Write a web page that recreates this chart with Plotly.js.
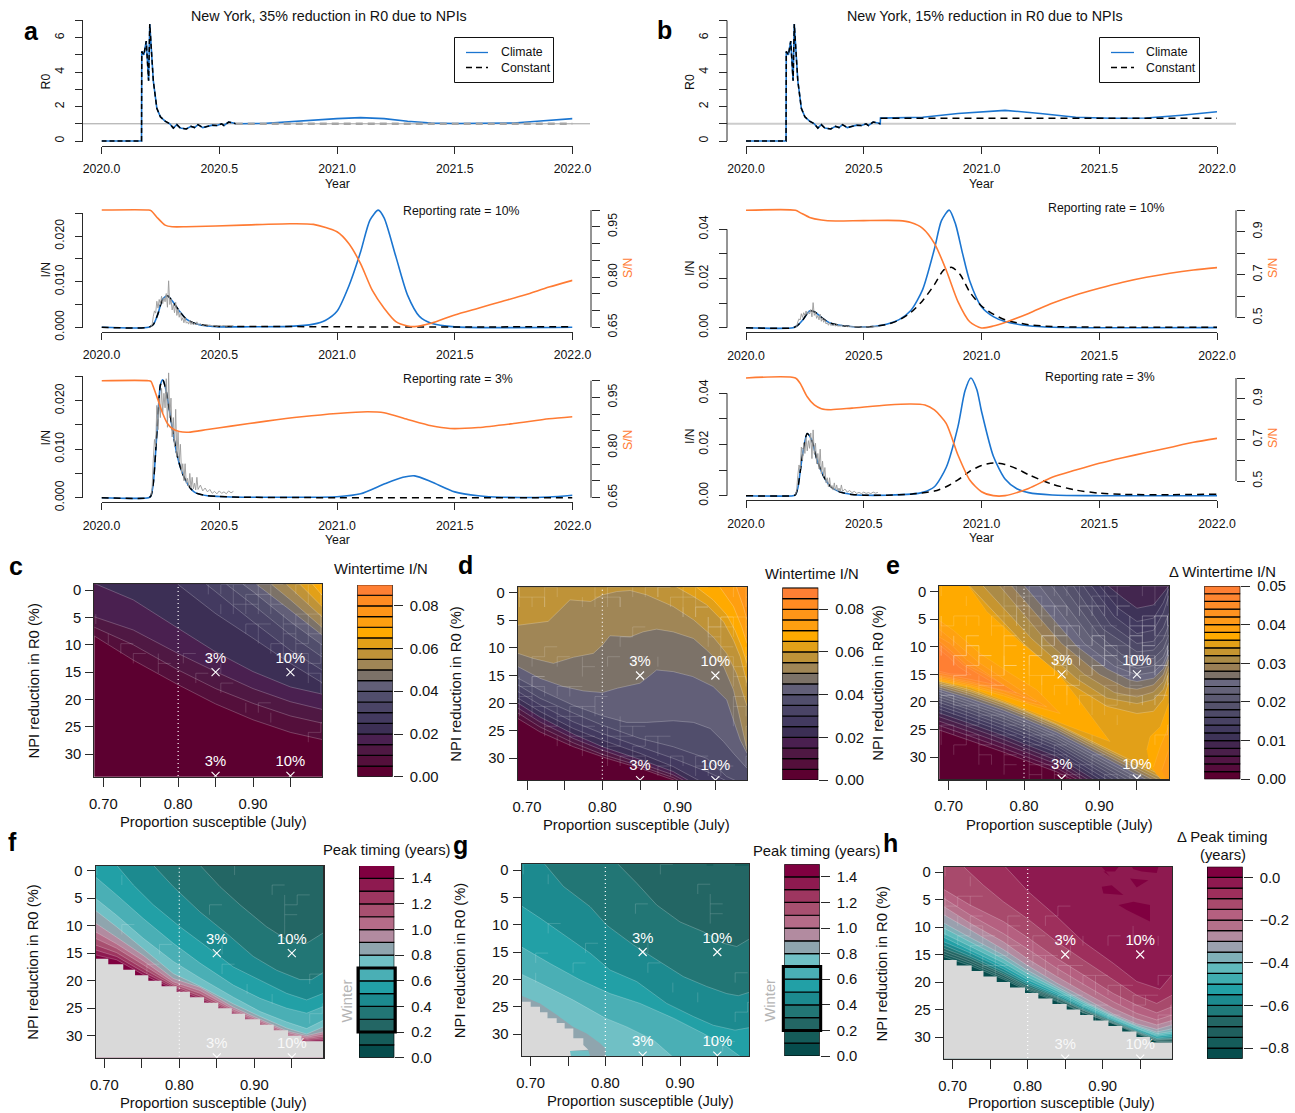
<!DOCTYPE html>
<html><head><meta charset="utf-8">
<script src="https://cdn.plot.ly/plotly-3.0.1.min.js"></script>
<style>html,body{margin:0;padding:0;background:#fff}#g{width:1295px;height:1113px}</style></head>
<body><div id="g"></div>
<script>
// ---------- time-series data (years since 2020 are added when drawn) ----------
const r0EarlyT=[0,.17,.171,.18,.19,.195,.2,.205,.21,.22,.235,.25,.27,.29,.305,.32,.335,.36,.38,.395,.41,.43,.45,.47,.49,.51,.52,.54,.56,.57];
const r0EarlyV=[0,0,5.2,5.0,5.8,4.2,3.5,6.8,5.5,3.5,1.9,1.4,1.15,1.0,.75,.95,.75,.7,.85,.78,.95,.78,.85,.92,.9,1.0,.9,1.1,1.05,1.0];
const r0LateTA=[.7,.85,1.0,1.1,1.2,1.3,1.4,1.5,1.6,1.75,1.85,2.0];
const r0LateVA=[1.03,1.18,1.3,1.36,1.3,1.15,1.05,1.02,1.02,1.05,1.15,1.3];
const r0LateTB=[.571,.75,.9,1.1,1.25,1.4,1.55,1.7,1.85,2.0];
const r0LateVB=[1.33,1.38,1.6,1.78,1.6,1.38,1.32,1.34,1.5,1.7];
const r0ConstTA=[.57,2.0]; const r0ConstVA=[1.0,1.0];
const r0ConstTB=[.571,2.0]; const r0ConstVB=[1.32,1.32];

const obsT=[.21,.215,.22,.225,.23,.235,.24,.245,.25,.255,.26,.265,.27,.275,.28,.285,.29,.295,.30,.305,.31,.315,.32,.325,.33,.335,.34,.345,.35,.355,.36,.365,.37,.375,.38,.385,.39,.395,.40,.405,.41,.42,.43,.44,.45,.46,.47,.48,.49,.50,.51,.52,.53,.54,.55,.56];
const obs3=[.0005,.002,.008,.012,.0105,.019,.014,.0205,.0165,.0225,.0175,.0215,.0185,.0245,.0145,.0257,.0165,.0205,.0125,.0165,.0105,.0182,.0085,.0135,.0075,.011,.005,.007,.0035,.007,.003,.004,.0022,.005,.002,.0042,.0018,.003,.0016,.0042,.0017,.0026,.0014,.002,.0012,.0017,.0009,.0013,.0008,.0014,.0009,.0012,.0008,.0014,.001,.0013];
const obs10=[.0001,.0006,.0024,.0036,.0031,.0057,.0042,.0061,.005,.0068,.0052,.0065,.0056,.0074,.0044,.0102,.005,.0062,.0038,.005,.0032,.0055,.0026,.004,.0022,.0033,.0015,.0021,.001,.0021,.0009,.0012,.0007,.0015,.0006,.0013,.0005,.0009,.0005,.0012,.0005,.0008,.0004,.0006,.0004,.0005,.0003,.0004,.0002,.0004,.0003,.0004,.0002,.0004,.0003,.0004];

const t2aClim=[0,.2,.22,.24,.26,.28,.30,.33,.36,.4,.45,.5,.6,.8,.9,.95,1.0,1.05,1.1,1.14,1.175,1.2,1.25,1.3,1.35,1.4,1.5,2.0];
const v2aClim=[0,0,.0006,.003,.0062,.0069,.0058,.0036,.0018,.0008,.0003,.0001,.0001,.0002,.0007,.0015,.0035,.009,.0165,.0235,.0257,.024,.0155,.007,.0024,.0009,.0001,0];
const t2aConst=[0,.2,.22,.24,.26,.28,.30,.33,.36,.4,.45,.5,.7,1.0,2.0];
const v2aConst=[0,0,.0006,.003,.0062,.0069,.0058,.0036,.0018,.0008,.0004,.0002,.0002,.0001,.0001];
const t2aS=[0,.2,.21,.24,.27,.3,.36,.6,.8,.9,1.0,1.05,1.1,1.15,1.2,1.25,1.3,1.33,1.4,1.5,1.6,1.7,1.8,1.9,2.0];
const v2aS=[1,1,.998,.975,.955,.95,.95,.955,.959,.957,.935,.90,.84,.76,.707,.667,.654,.652,.662,.687,.707,.727,.747,.77,.79];

const t3aClim=[0,.2,.21,.22,.23,.24,.25,.26,.27,.28,.30,.32,.34,.36,.38,.40,.45,.5,.6,.8,1.0,1.1,1.2,1.28,1.33,1.4,1.5,1.6,1.7,1.9,2.0];
const v3aClim=[0,0,.0004,.003,.0095,.017,.0232,.0243,.023,.0205,.0145,.009,.0055,.0033,.0018,.001,.0004,.00025,.0001,.0001,.0002,.0008,.0028,.0042,.0045,.0033,.0012,.0004,.0001,.00015,.0005];
const t3aConst=[0,.2,.21,.22,.23,.24,.25,.26,.27,.28,.30,.32,.34,.36,.38,.40,.45,.5,.6,1.0,2.0];
const v3aConst=[0,0,.0004,.003,.0095,.017,.0232,.0243,.023,.0205,.0145,.009,.0055,.0033,.0018,.001,.0004,.00025,.0001,0,0];
const t3aS=[0,.2,.21,.22,.24,.26,.28,.3,.33,.37,.45,.55,.7,.85,1.0,1.13,1.2,1.3,1.4,1.48,1.6,1.75,1.9,2.0];
const v3aS=[1,1,.998,.982,.942,.902,.872,.857,.848,.846,.854,.864,.879,.892,.902,.907,.904,.884,.865,.857,.86,.872,.886,.892];

const t2bClim=[0,.2,.22,.24,.27,.29,.33,.36,.42,.5,.55,.6,.65,.7,.75,.8,.83,.863,.89,.92,.95,1.0,1.05,1.1,1.2,1.3,2.0];
const v2bClim=[0,0,.001,.003,.0068,.0065,.0035,.0018,.0007,.0003,.0006,.0015,.0033,.007,.0155,.032,.0435,.0478,.042,.03,.019,.0085,.0045,.0025,.0008,.0002,.00005];
const t2bConst=[0,.2,.22,.24,.27,.29,.33,.36,.42,.5,.55,.6,.65,.7,.75,.8,.84,.875,.91,.95,1.0,1.05,1.1,1.2,1.3,1.5,2.0];
const v2bConst=[0,0,.001,.003,.0068,.0065,.0035,.0018,.0007,.0003,.0006,.0014,.0031,.0062,.011,.0175,.0235,.0245,.0215,.0145,.0088,.0055,.0032,.0012,.0005,.0002,.0002];
const t2bS=[0,.21,.23,.27,.32,.38,.5,.65,.7,.75,.8,.85,.9,.95,1.0,1.05,1.1,1.2,1.3,1.4,1.5,1.6,1.7,1.8,1.9,2.0];
const v2bS=[1,1,.989,.967,.955,.95,.952,.952,.943,.916,.846,.722,.575,.481,.452,.461,.478,.52,.567,.606,.637,.665,.688,.707,.722,.733];

const t3bClim=[0,.2,.21,.22,.24,.26,.28,.3,.33,.36,.4,.45,.5,.6,.7,.75,.8,.85,.9,.93,.955,.98,1.0,1.05,1.1,1.15,1.2,1.3,1.5,2.0];
const v3bClim=[0,0,.0004,.003,.016,.0243,.0215,.0145,.0075,.0035,.0014,.0005,.0002,.0002,.0006,.0013,.0035,.011,.027,.041,.046,.0415,.033,.0155,.0065,.0027,.0012,.0003,0,0];
const t3bConst=[0,.2,.21,.22,.24,.26,.28,.3,.33,.36,.4,.45,.5,.6,.7,.8,.85,.9,.95,1.0,1.05,1.1,1.15,1.2,1.3,1.4,1.5,1.6,1.8,2.0];
const v3bConst=[0,0,.0004,.003,.016,.0243,.0215,.0145,.0075,.0035,.0014,.0005,.0002,.0002,.0006,.0018,.0035,.0062,.0095,.0118,.0128,.0122,.0105,.0082,.0045,.0022,.001,.0005,.0004,.0006];
const t3bS=[0,.21,.23,.26,.29,.32,.36,.45,.6,.7,.76,.8,.85,.9,.95,1.0,1.05,1.1,1.2,1.3,1.4,1.5,1.6,1.7,1.8,1.9,2.0];
const v3bS=[1,1,.974,.909,.869,.851,.846,.854,.869,.874,.869,.845,.78,.626,.505,.448,.429,.429,.464,.518,.553,.586,.613,.638,.663,.688,.707];

// ---------- colour levels ----------
const winterColors=['#5c0030','#540f3b','#4f1843','#4a2050','#3c2f55','#433a60','#4a4466','#514e6c','#625f78','#7c7268','#a08656','#bf9338','#e2a018','#ffaa00','#ff9f10','#ff9518','#ff8b22','#ff7f33'];
const winterBins=[0,.005,.01,.015,.02,.025,.03,.035,.04,.045,.05,.055,.06,.065,.07,.075,.08,.085];
const deltaWinterColors=['#5b0030','#560c3c','#521544','#4a1f4a','#43264f','#3e3358','#423a5f','#484263','#4e4a68','#55526c','#5c5a72','#646278','#6a6880','#7d7268','#9a7f55','#ab8b47','#c69530','#e2a018','#ffaa00','#ffa210','#ff9a18','#ff9320','#ff8c28','#ff8530','#ff7f33'];
const deltaWinterBins=[0,.002,.004,.006,.008,.01,.012,.014,.016,.018,.02,.022,.024,.026,.028,.03,.032,.034,.036,.038,.04,.042,.044,.046,.048];
const peakColors=['#064d4d','#155c5a','#236664','#227675','#1c8a8f','#22a0a6','#4aafb5','#70c0c5','#8fa5ae','#b28ba0','#b56c88','#a85070','#9e3660','#8e1a50','#800040'];
const peakBins=[0,.1,.2,.3,.4,.5,.6,.7,.8,.9,1.0,1.1,1.2,1.3,1.4];
const deltaPeakColors=['#064d4d','#155c5a','#1f5f5e','#236664','#1f7a7a','#1c8a8f','#22a0a6','#3fadb0','#60babc','#80b0b8','#9aa0ae','#b28ba0','#b5708a','#b56080','#a84a6c','#9e2f5c','#8e1a50','#800040'];
const deltaPeakBins=[-.85,-.8,-.75,-.7,-.65,-.6,-.55,-.5,-.45,-.4,-.35,-.3,-.25,-.2,-.15,-.1,-.05,0];

// ---------- panel c: contour curves, lowest level first ----------
const cX=[
[.688,.74,.80,.85,.90,.95,.992],[.688,.74,.80,.85,.90,.95,.992],[.688,.74,.80,.85,.90,.95,.992],[.688,.74,.80,.85,.90,.95,.992],
[.80,.85,.90,.95,.992],[.838,.85,.90,.95,.992],[.865,.90,.95,.992],[.887,.90,.95,.992],[.905,.95,.992],[.925,.95,.992],[.945,.992],[.963,.992],[.98,.992]];
const cY=[
[8.4,12.8,17.3,20.8,23.7,26,27.3],[6.8,10,14.6,18,20.7,23,24.3],[4.9,7.3,11.6,14.9,18,20.4,21.8],[-1.2,1.8,7,11.3,14.9,17.7,19],
[-1,4.3,8.8,13.4,16.9],[-1,.3,5.8,11,14.6],[-1,2.7,8.2,12.2],[-1,.3,5.8,10],[-1,3.7,8.2],[-1,1.8,6.8],[-1,4.9],[-1,3],[-1,.9]];

// ---------- panel d ----------
const dX=[
[.688,.717,.7615,.806,.85,.894,.90],
[.688,.717,.7615,.80,.85,.894,.905],
[.688,.717,.7615,.80,.85,.894,.912],
[.688,.717,.7615,.80,.85,.894,.918],
[.688,.717,.7615,.80,.85,.894,.932],
[.688,.717,.7615,.80,.85,.894,.9385,.968],
[.688,.717,.7615,.80,.85,.894,.9385,.965,.992],
[.688,.717,.7615,.80,.832,.859,.894,.921,.943,.961,.974,.992],
[.688,.717,.748,.775,.80,.82,.85,.864,.872,.894,.92,.947,.965,.974,.983,.992],
[.688,.708,.735,.7615,.788,.80,.81,.837,.854,.872,.894,.921,.9385,.961,.974,.983,.992],
[.688,.728,.7415,.757,.7845,.80,.819,.837,.859,.894,.921,.947,.965,.978,.992],
[.872,.899,.921,.9385,.961,.974,.983,.992],
[.925,.947,.965,.976,.985,.992],
[.956,.974,.985,.992],
[.978,.987,.992]];
const dY=[
[22.8,25.2,27.9,30,31.8,33.9,34.3],
[21.8,24.3,27.2,29.3,31.4,33.5,34.3],
[20.9,23.4,26.4,28.5,30.9,33,34.3],
[20,22.5,25.6,27.9,30.2,32.4,34.3],
[19.1,21.5,24.6,26.7,29.1,31.5,34.3],
[17.9,20.3,23.4,25.5,27.9,30,32.4,34.3],
[16.7,19.1,21.8,24,26.4,27.9,30,33.3,35],
[15.5,17.6,20.4,22.3,23.5,23.5,23.2,23.5,24.6,27,29.1,31.8],
[13.4,15.5,17,17.8,18.1,17.3,16.4,14.9,14,14.3,15.2,17,19.4,23.1,26.7,29.1],
[11,11.9,12.8,11.7,11,9.5,7.8,8,7.1,6.6,7.1,8.3,10.4,13.4,17.6,23,28.5],
[5.9,5.2,3.4,1.3,1.6,.4,-.2,-.4,.4,2.5,4.9,8,11,14.6,20.6],
[-2.3,-1,.7,2.2,5.3,8.6,11.6,16.4],
[-1,1.3,4,6.8,9.8,12.8],
[-1,2.5,6.2,9.2],
[-1,2.5,4.9]];
const dBinIndex=[1,2,3,4,5,6,7,8,9,10,11,12,13,14,15];

// ---------- panel e: lower strip and upper diagonal of each level ----------
const eStripX=[.6876,.728,.7726,.80,.8434];
const eStripY=[
[25.1,27,29.1,30.5,32.7],[24.3,26.2,28.4,29.8,32],[23.5,25.4,27.6,29,31.3],[22.7,24.6,26.8,28.3,30.6],
[22,23.9,26.1,27.6,29.9],[21.3,23.2,25.4,26.9,29.2],[20.7,22.6,24.8,26.2,28.6],[20.1,22,24.2,25.6,28],
[19.6,21.4,23.6,25,27.5],[19.1,20.9,23,24.5,27],[18.6,20.4,22.5,24,26.5],[18.1,19.9,22,23.5,26],
[17.7,19.4,21.5,23,25.5],[17.3,18.9,21,22.5,25],[16.9,18.5,20.6,22.1,24.6],[16.6,18.1,20.2,21.7,24.2],[16.3,17.8,20,21.5,24]];
const eStripEndX=[.87,.876,.883,.89,.898,.906,.915,.924,.933,.942,.951,.96,.968,.976,.984,.992,1.0];
const eUpperX=[null,null,null,null,
[.912,.932,.95,.972,.985,.992],[.901,.925,.95,.972,.985,.992],[.89,.92,.95,.972,.985,.992],[.879,.915,.95,.972,.985,.992],
[.866,.905,.95,.972,.985,.992],[.852,.90,.93,.95,.972,.985,.992],[.837,.89,.93,.95,.972,.985,.992],[.821,.88,.92,.95,.972,.985,.992],
[.801,.87,.91,.94,.95,.972,.985,.992],[.784,.85,.90,.935,.95,.972,.985,.992],[.768,.83,.88,.92,.95,.972,.985,.992],
[.746,.81,.87,.91,.95,.972,.985,.992],[.728,.80,.86,.91,.95,.972,.985,.992]];
const eUpperY=[null,null,null,null,
[-1,1.2,3,2.4,.2,-1],[-1,3,5.4,4.8,2,-.5],[-1,4.5,7.6,7,3.8,.9],[-1,6,9.4,9,6.5,4],
[-1,6.8,10.9,10.6,8.6,6.1],[-1,8,11.4,12.4,12.1,10.4,7.9],[-1,8.6,12.9,13.9,13.4,11.8,9.4],[-1,9.4,13.5,15.1,14.6,13,10.6],
[-1,9.9,14,16,16.3,15.7,14,11.5],[-1,9.4,15,17.4,17.7,16.9,15,12.4],[-1,9,15,18.3,19.1,18.2,16.3,13.6],
[-1,8.5,15.8,19.3,20.3,19.6,17.7,14.8],[-1,9.5,16.6,20.8,22.1,21.7,19.5,16.6]];
// closed islands: colour bin index, then outline
const eBlobBin=[18,18,19,19,20,20,21,22,23,24];
const eBlobX=[
[.68,.706,.7505,.7947,.8434,.87,.9143,.8611,.8169,.7726,.7283,.68],
[.963,.9674,.981,.992,1.05,1.05,.981,.9674],
[.68,.7062,.7416,.7815,.8169,.8479,.8169,.7726,.7283,.68],
[.972,.981,.992,1.05,1.05,.985,.975],
[.68,.7106,.7416,.7815,.8124,.8301,.8036,.7726,.7283,.68],
[.983,.992,1.05,1.05,.99],
[.68,.7018,.7239,.7505,.7815,.8169,.7726,.7283,.68],
[.68,.7018,.7239,.746,.7726,.79,.7637,.7283,.68],
[.68,.7018,.7195,.7416,.7638,.7283,.68],
[.68,.6996,.7128,.73,.7018,.68]];
const eBlobY=[
[-5,-5,3.6,9.1,14.5,19.1,27.2,24.5,22.1,19.7,17.4,16],
[28.7,26.3,24.5,20.3,20.3,34.5,33.6,31.8],
[4.5,7,11.2,14.8,17.8,22.1,20.9,18.9,17.2,15.8],
[31.8,28.1,24.5,24.5,34.5,34.5,33],
[6,9.4,13,16.6,19.4,20.9,20,18.5,16.9,15.5],
[32.4,28.7,28.7,34.5,34.5],
[7.6,9.4,12.4,14.8,17.8,20,18,16.6,15.2],
[8.2,10.6,13.3,14.8,16.9,18.4,17.6,16.3,15],
[8.8,11.2,13.3,15.1,16.9,15.9,14.6],
[9.7,11.8,13.6,15.1,14.9,14.2]];

// ---------- panel f: curves ordered from high to low value ----------
const fGridX=[.688,.7164,.752,.792,.8276,.872,.9076,.9431,.9698,.992];
const fCurveY=[
[15.3,16.2,18.9,21.5,23.6,26,28.2,30.3,31.1,31],
[14.4,15.6,18.4,21.2,23.2,25.9,28,30.1,30.9,30.7],
[13.5,14.9,17.8,20.9,22.8,25.7,27.8,29.9,30.7,30.4],
[12.3,14.1,17.1,20.6,22.3,25.5,27.6,29.7,30.5,30.1],
[11.1,13.3,16.4,20.2,21.8,25.2,27.3,29.4,30.3,29.7],
[9.5,12.1,15.4,19.6,21.2,24.8,27,29.1,30,29.3],
[7.2,10.2,14.2,18.7,21,24.2,26.5,28.6,29.7,28.4],
[5,8.1,12.3,16.5,19.5,23,25.6,27.5,28.7,27.2],
[1.1,4.4,8.7,13.2,16.8,20.8,23.2,25,25.9,24.7]];
const fCurve5X=[.7164,.7387,.7653,.8009,.8364,.872,.9076,.9431,.9698,.992];
const fCurve5Y=[-1,2.6,6.2,10.2,13.8,17.5,19.9,22.3,23.5,22.3];
const fCurve4X=[.7653,.792,.8276,.8631,.8987,.9298,.9609,.9764,.992];
const fCurve4Y=[-1,2.9,7.5,11.4,15.6,18.1,19.8,19.8,18.5];
const fCurve3X=[.8276,.8542,.8809,.9164,.9476,.9698,.992];
const fCurve3Y=[-1,2.9,6.2,10.2,12.9,13.2,11.3];
// missing-data staircase shared by f and h
const stairX=[.688,.7053,.7053,.7253,.7253,.741,.741,.7587,.7587,.7764,.7764,.7964,.7964,.8142,.8142,.833,.833,.852,.852,.87,.87,.8876,.8876,.9076,.9076,.926,.926,.945,.945,.963,.963,.992];
const stairY=[16,16,17,17,18,18,19,19,20,20,21,21,22,22,23,23,24,24,25,25,26,26,27,27,28,28,29,29,30,30,31,31];

// ---------- panel g ----------
const gX=[
[.688,.7125,.7571,.80,.8286,.8643,.8911],
[.688,.7259,.7661,.8063,.8464,.8911,.9313,.9625,.9826],
[.688,.7125,.7482,.7795,.8063,.842,.8821,.9179,.9446,.9737,.992],
[.7192,.7438,.7795,.8018,.8375,.8732,.9045,.9357,.9625,.9781,.992],
[.8174,.842,.8688,.90,.9313,.958,.9759,.992]];
const gY=[
[19.1,20.7,23.8,27.1,28.7,31.1,34.3],
[14.1,17.1,20.1,22.6,24.4,27.1,29.9,32.3,34.3],
[6.6,8.8,12.2,15.2,18.3,20.4,24.4,26.8,28.4,29.3,28.85],
[-1,3,6.7,10.1,13.7,16.8,19.5,21.3,22.6,23,22.4],
[-1,2.4,6.4,9.5,11.3,13.4,14,12.7]];
const gBlueGreyX=[.68,.688,.7125,.7348,.7571,.775,.7929,.80,.80,.68];
const gBlueGreyY=[23,23,24.4,26.5,28.7,29.9,31.7,32.6,35,35];
const gGreyX=[.68,.688,.7,.7,.7125,.7125,.7225,.7225,.7348,.7348,.7455,.7455,.7571,.7571,.7705,.7705,.7772,.7527,.755,.755,.68];
const gGreyY=[24.1,24.1,24.1,25,25,26,26,27.1,27.1,28,28,29,29,30.8,30.8,32,32.9,33.1,33.4,35,35];
const gTealX=[.7527,.7772,.7817,.755];
const gTealY=[33.1,33,35,35];
const gDarkX=[[.9357,.9446,.9446,.9357],[.9737,.992,.992,.9737]];
const gDarkY=[[-2,-2,-.8,-.8],[-2,-2,-.8,-.8]];

// ---------- panel h ----------
const hGridX=[.6884,.7231,.7676,.7987,.8387,.8742,.9142,.9453,.972,.9924];
const hCurveY=[
[15.4,17,19.5,21.5,23.5,25.6,27.6,29.4,30.8,30.9],
[14.9,16.6,19.2,21.2,23.3,25.5,27.5,29.2,30.7,30.8],
[14.4,16.2,18.8,21,23,25.2,27.4,29.1,30.5,30.5],
[13.9,15.7,18.5,20.7,22.8,25.1,27.3,29,30.5,30.3],
[13.3,15.3,18.1,20.3,22.6,24.9,27.1,28.9,30.3,30.2],
[12.7,14.7,17.6,20,22.3,24.6,27,28.7,30.2,29.9],
[11.9,14.2,17.1,19.5,22,24.4,26.8,28.5,29.9,29.6],
[11.2,13.5,16.5,19,21.6,24.1,26.6,28.4,29.7,29.3],
[10.2,12.7,15.8,18.4,21.2,23.7,26.3,28.1,29.4,29],
[9.3,11.9,15.1,17.8,20.8,23.4,26.1,27.9,29.1,28.5],
[7.8,10.5,14.1,16.9,20.2,22.8,25.8,27.6,28.6,27.8],
[6.3,9.3,12.7,15.7,19,21.8,24.8,26.7,27.8,27],
[4.8,7.8,11.2,13.9,17.5,20.4,23.6,25.7,26.9,26],
[3.2,6,9,11.8,15.7,18.7,22.1,24.2,25.6,24.5]];
const hCurve10X=[.7142,.7409,.7676,.7987,.8387,.8742,.9142,.9453,.972,.9924];
const hCurve10Y=[-1,2.4,5.4,8.4,12.7,16,19.6,22.4,23.9,22.4];
const hCurve05X=[.7698,.8009,.8387,.8742,.9142,.9453,.9764,.9924];
const hCurve05Y=[-1,3.6,8.1,12.7,16.6,19.9,21.3,18.7];
const hPatchX=[[.892,.9276,.9164,.9009,.9098],[.9342,.9764,.972,.952,.9409],[.9364,.9609,.9453],[.8987,.912,.9276,.9009],[.9209,.9409,.9631,.9631,.932]];
const hPatchY=[[-2,-2,-.1,-.1,.8],[-2,-2,.2,-.1,-.5],[1.2,1.5,2.8],[2.7,2.4,4.2,3.9],[6,5.4,6,9,6.9]];

// ---------- fine light lattice seen on the filled panels: [upper x, upper y, lower x, lower y, share of cells] ----------
const latticeC=[[[.82,.992],[-2,-2],[.82,.90,.95,.992],[-1,8,14,18],.7],[[.688,.80,.90,.992],[2,8,17,22],[.688,.80,.90,.992],[10,18,25,29],.14]];
const latticeD=[[[.688,.80,.90,.992],[14,19,28,33],[.688,.75,.80,.85,.90,.992],[23,27.5,30,32,34,34],.75],[[.90,.992],[-2,-2],[.90,.95,.97,.992],[2,10,20,32],.6],[[.688,.992],[-2,-2],[.688,.80,.90,.992],[18,15,12,6],.1]];
const latticeE=[[[.688,.85,.95,.992],[17,27,34,35],[.688,.80,.90],[28,34,36],.8],[[.76,.96],[-2,-2],[.76,.80,.88,.95,.96],[-1,7,14,15.5,15.5],.7],[[.688,.72],[3,3],[.688,.72],[18,20],.5],[[.95,.992],[8,2],[.95,.992],[16,17],.5],[[.688,.80,.90],[-2,4,14],[.688,.80,.90],[20,24,28],.12]];
const latticeF=[[[.688,.992],[-2,-2],[.688,.80,.90,.992],[14,20,26,29],.09]];
const latticeG=[[[.688,.992],[-2,-2],[.688,.80,.992],[22,30,34],.07]];
const latticeH=[[[.70,.80,.90,.992],[3,10,19,24],[.70,.80,.90,.992],[15,21,27,30],.5],[[.70,.992],[-2,12],[.70,.80,.90,.992],[4,10,18,22],.1]];

// ---------- labels and markers ----------
const sceneX=[.85,.95,.85,.95];
const sceneLabels=['3%','10%','3%','10%'];
const xTickVals=[.70,.75,.80,.85,.90,.95];
const xTickText=['0.70','','0.80','','0.90',''];
const yTickVals=[0,5,10,15,20,25,30];
const timeTicks=[2020,2020.5,2021,2021.5,2022];
const timeTickText=['2020.0','2020.5','2021.0','2021.5','2022.0'];

// ---------- assembling ----------
const W=1295,H=1113,FONT='"Liberation Sans",Arial,sans-serif',AX='#2a2a2a';
const BLUE='#1b75d0',ORANGE='#ff7b33',CL='rgba(255,255,255,0.33)',CLF='rgba(255,255,255,0.14)';
const SMALL=12.3,HEAT=14.8;
const traces=[],annotations=[],shapes=[];
const layout={width:W,height:H,margin:{l:0,r:0,t:0,b:0},paper_bgcolor:'#fff',plot_bgcolor:'rgba(0,0,0,0)',showlegend:false,font:{family:FONT,size:12,color:'#111'},bargap:0,hovermode:false};
let nx=0,ny=0;
function addX(c){nx++;layout['xaxis'+(nx==1?'':nx)]=c;return 'x'+(nx==1?'':nx);}
function addY(c){ny++;layout['yaxis'+(ny==1?'':ny)]=c;return 'y'+(ny==1?'':ny);}
function note(x,y,t,s,o){o=o||{};annotations.push({xref:'paper',yref:'paper',x:x/W,y:1-y/H,text:t,showarrow:false,xanchor:o.anchor||'center',yanchor:'middle',textangle:o.angle||0,font:{family:FONT,size:s,color:o.color||'#111',weight:o.weight||'normal'}});}
function yr(a){return a.map(v=>2020+v);}

function timeX(x0,x1,axisY,std){return addX({domain:[x0/W,x1/W],range:[2020,2022],anchor:'free',position:1-axisY/H,tickvals:timeTicks,ticktext:timeTickText,ticks:'outside',ticklen:7,tickcolor:AX,showline:true,linecolor:AX,linewidth:1,showgrid:false,zeroline:false,tickfont:{size:SMALL,color:'#111'},ticklabelstandoff:std});}
// value axis: the drawing area is padded so peaks may pass the axis ends, the axis line itself only spans the ticks
function valY(px,yb,yt,r,vals,text,side,std){
 const padB=16,padT=Math.min(24,yt-1),k=(r[1]-r[0])/(yb-yt);
 const id=addY({domain:[1-(yb+padB)/H,1-(yt-padT)/H],range:[r[0]-padB*k,r[1]+padT*k],anchor:'free',position:px/W,side:side,tickvals:vals,ticktext:text,tickangle:-90,ticks:'outside',ticklen:8,tickcolor:AX,showline:false,showgrid:false,zeroline:false,tickfont:{size:SMALL,color:'#111'},ticklabelstandoff:std});
 shapes.push({type:'line',xref:'paper',yref:id,x0:px/W,x1:px/W,y0:r[0],y1:r[1],line:{color:AX,width:1}});
 return id;
}
function line(xa,ya,x,y,color,w,dash,spline){traces.push({type:'scatter',mode:'lines',xaxis:xa,yaxis:ya,x:x,y:y,cliponaxis:false,hoverinfo:'skip',line:{color:color,width:w,dash:dash||'solid',shape:spline?'spline':'linear',smoothing:.7}});}

// R0 row
function r0Panel(c){
 const xa=timeX(c.x0,c.x1,145.6,5),ya=valY(c.left,141,20.5,[0,7],[0,1,2,3,4,5,6,7],['0','','2','','4','','6',''],'left',6);
 shapes.push({type:'line',xref:'paper',yref:ya,x0:c.left/W,x1:c.gray/W,y0:1,y1:1,line:{color:c.grayColor,width:c.grayW},layer:'below'});
 line(xa,ya,yr(r0EarlyT.concat(c.lt)),r0EarlyV.concat(c.lv),BLUE,1.6);
 line(xa,ya,yr(r0EarlyT),r0EarlyV,'#000',1.5,'5px,3px');
 line(xa,ya,yr(c.ct),c.cv,c.cc,c.cw,'7px,5px');
 note(c.left-37,82,'R0',SMALL,{angle:-90});
 note((c.x0+c.x1)/2,183.5,'Year',SMALL);
}
r0Panel({x0:101.5,x1:572.5,left:82.5,gray:590,grayColor:'#a0a0a0',grayW:1,lt:r0LateTA,lv:r0LateVA,ct:r0ConstTA,cv:r0ConstVA,cc:'#a5a5a5',cw:2.4});
r0Panel({x0:746,x1:1217,left:727,gray:1236,grayColor:'#cccccc',grayW:2,lt:r0LateTB,lv:r0LateVB,ct:r0ConstTB,cv:r0ConstVB,cc:'#000',cw:1.5});

// I/N rows
function inPanel(c){
 const xa=timeX(c.x0,c.x1,c.axisY,c.std);
 const ya=valY(c.left,c.y0,c.yTop,c.lr,c.lv,c.lt,'left',6);
 const ys=valY(c.right,c.s0,c.sTop,c.sr,c.sv,c.st,'right',2);
 line(xa,ys,yr(c.S[0]),c.S[1],ORANGE,1.6,'solid',true);
 line(xa,ya,yr(c.A[0]),c.A[1],BLUE,1.6,'solid',true);
 line(xa,ya,yr(c.B[0]),c.B[1],'#000',1.5,'7px,5px',true);
 line(xa,ya,yr(obsT),c.obs,'#9a9a9a',.9);
 note(c.left-37,c.ly,'I/N',SMALL,{angle:-90});
 note(c.sx,c.sy,'S/N',SMALL,{angle:-90,color:ORANGE});
 note(c.rx,c.ry,c.rt,SMALL);
 if(c.year) note((c.x0+c.x1)/2,c.year,'Year',SMALL);
}
const leftA={x0:101.5,x1:572.5,left:82.5,right:591,sx:628};
const leftB={x0:746,x1:1217,left:727,right:1236,sx:1273};
const aTicks={lv:[0,.005,.01,.015,.02,.025],lt:['0.000','','0.010','','0.020',''],sv:[.65,.7,.75,.8,.85,.9,.95,1],st:['0.65','','','0.80','','','0.95',''],sr:[.65,1],lr:[0,.025]};
const bTicks={lv:[0,.01,.02,.03,.04],lt:['0.00','','0.02','','0.04'],sv:[.5,.6,.7,.8,.9,1],st:['0.5','','0.7','','0.9',''],sr:[.5,1],lr:[0,.04]};
inPanel({...leftA,...aTicks,axisY:331.7,std:5,y0:327.3,yTop:213.3,s0:327.3,sTop:210,S:[t2aS,v2aS],A:[t2aClim,v2aClim],B:[t2aConst,v2aConst],obs:obs10,ly:270,sy:268,rx:461,ry:211,rt:'Reporting rate = 10%'});
inPanel({...leftA,...aTicks,axisY:502,std:5,y0:497.7,yTop:376.3,s0:497.7,sTop:380.7,S:[t3aS,v3aS],A:[t3aClim,v3aClim],B:[t3aConst,v3aConst],obs:obs3,ly:438,sy:440,rx:457.5,ry:379,rt:'Reporting rate = 3%',year:540});
inPanel({...leftB,...bTicks,axisY:332,std:5,y0:327.7,yTop:229.3,s0:317.7,sTop:210.3,S:[t2bS,v2bS],A:[t2bClim,v2bClim],B:[t2bConst,v2bConst],obs:obs10,ly:268,sy:268,rx:1106,ry:207.7,rt:'Reporting rate = 10%'});
inPanel({...leftB,...bTicks,axisY:500.3,std:5,y0:495.7,yTop:393.3,s0:481,sTop:378,S:[t3bS,v3bS],A:[t3bClim,v3bClim],B:[t3bConst,v3bConst],obs:obs3,ly:436,sy:438,rx:1100,ry:377.3,rt:'Reporting rate = 3%',year:538});

// legends and titles
function legendBox(x0,x1,lx0,lx1,tx){
 shapes.push({type:'rect',xref:'paper',yref:'paper',x0:x0/W,x1:x1/W,y0:1-37.5/H,y1:1-82.5/H,line:{color:'#111',width:1}});
 shapes.push({type:'line',xref:'paper',yref:'paper',x0:lx0/W,x1:lx1/W,y0:1-52.5/H,y1:1-52.5/H,line:{color:BLUE,width:1.3}});
 shapes.push({type:'line',xref:'paper',yref:'paper',x0:lx0/W,x1:lx1/W,y0:1-67.5/H,y1:1-67.5/H,line:{color:'#000',width:1.3,dash:'6px,4px'}});
 note(tx,52.5,'Climate',SMALL,{anchor:'left'});
 note(tx,67.5,'Constant',SMALL,{anchor:'left'});
}
legendBox(454.5,553.5,466,488,499);
legendBox(1099.5,1199.5,1111,1134,1144);
note(329,16,'New York, 35% reduction in R0 due to NPIs',14.3);
note(985,16,'New York, 15% reduction in R0 due to NPIs',14.3);

// heat panels
function poly(xa,ya,x,y,color,w){traces.push({type:'scatter',mode:'lines',xaxis:xa,yaxis:ya,x:x,y:y,fill:'toself',fillcolor:color,hoverinfo:'skip',line:{color:w===0?color:(w==='faint'?CLF:CL),width:w===0?0:.7,simplify:false}});}
function bandTop(xa,ya,x,y,color){ // area from a curve to the top-right of the panel
 const startX=x[0]>.69?x[0]:.6,startY=x[0]>.69?-10:y[0];
 const X=[startX].concat(x,[1.05,1.05,.6]),Y=[startY].concat(y,[y[y.length-1],-10,-10]);
 poly(xa,ya,X,Y,color);
}
function lerp(xs,ys,x){if(x<=xs[0])return ys[0];for(let i=1;i<xs.length;i++)if(x<=xs[i])return ys[i-1]+(ys[i]-ys[i-1])*(x-xs[i-1])/(xs[i]-xs[i-1]);return ys[ys.length-1];}
function lattice(xa,ya,zones,color){
 const X=[],Y=[],dx=.0167,dy=1.8;
 zones.forEach(z=>{
  for(let i=0;i<19;i++){const x=.69+i*dx;
   for(let j=0;j<20;j++){const y=-1+j*dy;
    const xc=x+dx/2,yc=y+dy/2;
    if(yc<lerp(z[0],z[1],xc)||yc>lerp(z[2],z[3],xc))continue;
    const pick=((i*73+j*37+i*j*11)%100)/100;
    if(pick>=z[4])continue;
    X.push(x,x,null);Y.push(y,y+dy,null);
    if((i+j)%3) {X.push(x,x+dx,null);Y.push(y,y,null);}
   }
  }
 });
 traces.push({type:'scatter',mode:'lines',xaxis:xa,yaxis:ya,x:X,y:Y,hoverinfo:'skip',connectgaps:false,line:{color:color||'rgba(255,255,255,0.2)',width:.8}});
}
function heatAxes(c){
 const sx=(c.t90-c.t70)/.2,sy=(c.y30-c.y0)/30;
 const xa=addX({domain:[c.l/W,c.r/W],range:[.7-(c.t70-c.l)/sx,.7+(c.r-c.t70)/sx],anchor:'y'+(ny+1),tickvals:xTickVals,ticktext:xTickText,ticks:'outside',ticklen:9,tickcolor:AX,showline:true,mirror:true,linecolor:AX,linewidth:1.2,showgrid:false,zeroline:false,tickfont:{size:HEAT,color:'#111'},ticklabelstandoff:4});
 const ya=addY({domain:[1-c.b/H,1-c.t/H],range:[(c.b-c.y0)/sy,(c.t-c.y0)/sy],anchor:xa,tickvals:yTickVals,ticks:'outside',ticklen:8,tickcolor:AX,showline:true,mirror:true,linecolor:AX,linewidth:1.2,showgrid:false,zeroline:false,tickfont:{size:HEAT,color:'#111'},ticklabelstandoff:1});
 return [xa,ya];
}
function decor(xa,ya,c,bottomAlpha){
 line2(xa,ya,[.8,.8],[-2,36]);
 traces.push({type:'scatter',mode:'markers',xaxis:xa,yaxis:ya,x:sceneX,y:[15,15,33.95,33.95],hoverinfo:'skip',marker:{symbol:'x-thin',size:8,color:'#fff',line:{color:'#fff',width:1.1}}});
 traces.push({type:'scatter',mode:'text',xaxis:xa,yaxis:ya,x:sceneX,y:[12.6,12.6,31.5,31.5],text:sceneLabels,textposition:'middle center',hoverinfo:'skip',textfont:{size:HEAT,family:FONT,color:['#fff','#fff',bottomAlpha,bottomAlpha]}});
 note(c.xc,c.xt,'Proportion susceptible (July)',HEAT);
 note(c.yl,(c.t+c.b)/2+1,'NPI reduction in R0 (%)',HEAT,{angle:-90});
 note(c.lx,c.ly,c.letter,25,{weight:'bold',color:'#000'});
}
function line2(xa,ya,x,y){traces.push({type:'scatter',mode:'lines',xaxis:xa,yaxis:ya,x:x,y:y,hoverinfo:'skip',line:{color:'#fff',width:1.2,dash:'1px,3px'}});}
function colorBar(c){
 const xa=addX({domain:[c.x0/W,c.x1/W],range:[-.5,.5],anchor:'y'+(ny+1),visible:false});
 const ya=addY({domain:[1-c.yb/H,1-c.yt/H],range:[c.vmin,c.vmax],anchor:xa,side:'right',tickvals:c.vals,ticktext:c.text,ticks:'outside',ticklen:9,tickcolor:AX,showline:false,showgrid:false,zeroline:false,tickfont:{size:HEAT,color:'#111'},ticklabelstandoff:4});
 const step=c.bins[1]-c.bins[0];
 traces.push({type:'bar',xaxis:xa,yaxis:ya,x:c.bins.map(()=>0),y:c.bins.map(()=>step),base:c.bins,width:1,hoverinfo:'skip',marker:{color:c.colors,line:{color:'#000',width:1.2}}});
 if(c.title) note(c.tx,c.ty,c.title,HEAT);
 if(c.winter){
  shapes.push({type:'rect',xref:'paper',yref:ya,x0:(c.x0-1)/W,x1:(c.x1+1)/W,y0:.2,y1:.7,line:{color:'#000',width:3}});
  note(c.wx,c.wy,'Winter',HEAT,{angle:-90,color:'#b5b5b5'});
 }
}
const wVals=[0,.02,.04,.06,.08],wText=['0.00','0.02','0.04','0.06','0.08'];
const pVals=[0,.2,.4,.6,.8,1,1.2,1.4],pText=['0.0','0.2','0.4','0.6','0.8','1.0','1.2','1.4'];

// c
{const c={l:94.3,r:322,t:584.3,b:776.7,t70:103.3,t90:253,y0:590,y30:754.3,xc:213.5,xt:821.7,yl:33,lx:16,ly:566,letter:'c'};
 const [xa,ya]=heatAxes(c);
 poly(xa,ya,[.6,1.05,1.05,.6],[-10,-10,40,40],winterColors[0],0);
 cY.forEach((y,i)=>bandTop(xa,ya,cX[i],y,winterColors[i+1]));
 lattice(xa,ya,latticeC);
 decor(xa,ya,c,'#fff');
 colorBar({x0:357.3,x1:392.7,yb:776.7,yt:585,vmin:0,vmax:.0898,vals:wVals,text:wText,bins:winterBins,colors:winterColors,title:'Wintertime I/N',tx:381,ty:568.7});}
// d
{const c={l:518,r:747,t:587.3,b:780,t70:527,t90:677.7,y0:592.7,y30:758.3,xc:636.5,xt:825,yl:456,lx:465,ly:565,letter:'d'};
 const [xa,ya]=heatAxes(c);
 poly(xa,ya,[.6,1.05,1.05,.6],[-10,-10,40,40],winterColors[0],0);
 dY.forEach((y,i)=>bandTop(xa,ya,dX[i],y,winterColors[dBinIndex[i]]));
 lattice(xa,ya,latticeD);
 decor(xa,ya,c,'#fff');
 colorBar({x0:782.3,x1:818.3,yb:780,yt:587.3,vmin:0,vmax:.0903,vals:wVals,text:wText,bins:winterBins,colors:winterColors,title:'Wintertime I/N',tx:811.7,ty:574});}
// e
{const c={l:939.3,r:1168.7,t:586,b:779.3,t70:948.7,t90:1099.3,y0:591.7,y30:757,xc:1059.5,xt:825,yl:878,lx:892.7,ly:565,letter:'e'};
 const [xa,ya]=heatAxes(c);
 poly(xa,ya,[.6,1.05,1.05,.6],[-10,-10,40,40],deltaWinterColors[0],0);
 eStripY.forEach((row,i)=>{
  const X=[.6].concat(eStripX,[eStripEndX[i],1.05]),Y=[row[0]].concat(row,[34.5,34.5]);
  if(eUpperX[i]){const ux=eUpperX[i].slice().reverse(),uy=eUpperY[i].slice().reverse();
   X.push(1.05);Y.push(uy[0]);X.push(...ux);Y.push(...uy);X.push(ux[ux.length-1],.6);Y.push(-10,-10);
  } else {X.push(1.05,.6);Y.push(-10,-10);}
  poly(xa,ya,X,Y,deltaWinterColors[i+1]);
 });
 eBlobY.forEach((y,i)=>poly(xa,ya,eBlobX[i],y,deltaWinterColors[eBlobBin[i]],'faint'));
 lattice(xa,ya,latticeE);
 decor(xa,ya,c,'#fff');
 colorBar({x0:1204.3,x1:1240.3,yb:779.3,yt:586,vmin:0,vmax:.05,vals:[0,.01,.02,.03,.04,.05],text:['0.00','0.01','0.02','0.03','0.04','0.05'],bins:deltaWinterBins,colors:deltaWinterColors,title:'Δ Wintertime I/N',tx:1222.7,ty:571.7});}
// f
function stairGrey(xa,ya){poly(xa,ya,[.6].concat(stairX,[1.05,1.05,.6]),[16].concat(stairY,[31,40,40]),'#d9d9d9',0);}
{const c={l:95.7,r:323.3,t:865.7,b:1057.7,t70:104.3,t90:254.3,y0:870.7,y30:1035.7,xc:213.5,xt:1103,yl:33,lx:12.7,ly:842,letter:'f'};
 const [xa,ya]=heatAxes(c);
 poly(xa,ya,[.6,1.05,1.05,.6],[-10,-10,40,40],peakColors[14],0);
 fCurveY.forEach((y,i)=>bandTop(xa,ya,fGridX,y,peakColors[13-i]));
 bandTop(xa,ya,fCurve5X,fCurve5Y,peakColors[4]);
 bandTop(xa,ya,fCurve4X,fCurve4Y,peakColors[3]);
 bandTop(xa,ya,fCurve3X,fCurve3Y,peakColors[2]);
 lattice(xa,ya,latticeF);
 stairGrey(xa,ya);
 decor(xa,ya,c,'rgba(255,255,255,.85)');
 colorBar({x0:359,x1:394.3,yb:1057.7,yt:866,vmin:0,vmax:1.496,vals:pVals,text:pText,bins:peakBins,colors:peakColors,title:'Peak timing (years)',tx:387,ty:850,winter:true,wx:346.7,wy:1000.7});}
// g
{const c={l:521.7,r:749,t:864.3,b:1056,t70:530.7,t90:680,y0:870,y30:1034,xc:640.5,xt:1101,yl:460,lx:460,ly:845,letter:'g'};
 const [xa,ya]=heatAxes(c);
 poly(xa,ya,[.6,1.05,1.05,.6],[-10,-10,40,40],peakColors[7],0);
 gY.forEach((y,i)=>bandTop(xa,ya,gX[i],y,peakColors[6-i]));
 lattice(xa,ya,latticeG);
 gDarkX.forEach((x,i)=>poly(xa,ya,x,gDarkY[i],peakColors[1],0));
 poly(xa,ya,gBlueGreyX,gBlueGreyY,peakColors[8],0);
 poly(xa,ya,gGreyX,gGreyY,'#d9d9d9',0);
 poly(xa,ya,gTealX,gTealY,peakColors[7],0);
 decor(xa,ya,c,'#fff');
 colorBar({x0:784.3,x1:819.7,yb:1056,yt:864.3,vmin:0,vmax:1.498,vals:pVals,text:pText,bins:peakBins,colors:peakColors,title:'Peak timing (years)',tx:816.7,ty:850.7,winter:true,wx:770,wy:1000.7});}
// h
{const c={l:944,r:1172,t:866.7,b:1058.7,t70:952.7,t90:1102.7,y0:872,y30:1037,xc:1061.5,xt:1103,yl:881.7,lx:890,ly:843,letter:'h'};
 const [xa,ya]=heatAxes(c);
 poly(xa,ya,[.6,1.05,1.05,.6],[-10,-10,40,40],deltaPeakColors[0],0);
 hCurveY.forEach((y,i)=>bandTop(xa,ya,hGridX,y,deltaPeakColors[i+1]));
 bandTop(xa,ya,hCurve10X,hCurve10Y,deltaPeakColors[15]);
 bandTop(xa,ya,hCurve05X,hCurve05Y,deltaPeakColors[16]);
 hPatchX.forEach((x,i)=>poly(xa,ya,x,hPatchY[i],deltaPeakColors[17],0));
 lattice(xa,ya,latticeH);
 stairGrey(xa,ya);
 decor(xa,ya,c,'rgba(255,255,255,.85)');
 colorBar({x0:1207,x1:1242.7,yb:1058.7,yt:866.7,vmin:-.85,vmax:.05,vals:[-.8,-.6,-.4,-.2,0],text:['−0.8','−0.6','−0.4','−0.2','0.0'],bins:deltaPeakBins,colors:deltaPeakColors,tx:0,ty:0});
 note(1222.7,837,'Δ Peak timing',HEAT);note(1222.7,855,'(years)',HEAT);}

note(31,31,'a',25,{weight:'bold',color:'#000'});
note(664,30,'b',25,{weight:'bold',color:'#000'});
layout.annotations=annotations;layout.shapes=shapes;
Plotly.newPlot('g',traces,layout,{displayModeBar:false,staticPlot:true});
</script></body></html>
